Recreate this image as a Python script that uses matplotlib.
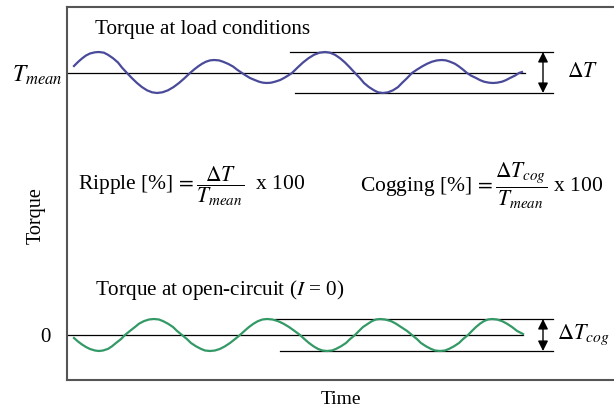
import numpy as np
import matplotlib.pyplot as plt

plt.rcParams['font.family'] = ['Liberation Serif', 'DejaVu Serif']
plt.rcParams['mathtext.fontset'] = 'stix'

# torque at load conditions (arbitrary units)
t_mean = 262
t_load = [7, 11, 15, 19, 23, 28,
          32, 37, 41, 46, 51, 55,
          60, 65, 70, 75, 80, 85,
          90, 95.5, 101, 106.5, 112, 117.5,
          123, 127, 131, 135, 139, 143,
          147, 152, 156, 161, 166, 170,
          175, 179, 183, 188, 192, 196,
          200, 204, 208, 213, 217, 221,
          225, 230.5, 236, 241.5, 247, 252.5,
          258, 263, 268, 273, 278, 283,
          288, 293, 297, 302, 307, 311,
          316, 321, 326, 331, 335, 340,
          345, 350, 355, 360, 365, 370,
          375, 379, 383, 388, 392, 396,
          400, 404, 409, 413, 417, 422,
          426, 430, 435, 439, 443, 448, 452, 455]
ripple_load = [7, 11, 14.5, 17.5, 19.5, 20.7,
               21, 20.3, 18.2, 14.8, 10.5, 5.4,
               0, -5.2, -10, -14.1, -17.3, -19.3,
               -20, -19.3, -17.3, -14.1, -10, -5.2,
               0, 3.4, 6.5, 9.2, 11.3, 12.6,
               13, 12.6, 11.3, 9.2, 6.5, 3.4,
               0, -2.6, -5, -7.1, -8.7, -9.7,
               -10, -9.7, -8.7, -7.1, -5, -2.6,
               0, 5.4, 10.5, 14.8, 18.2, 20.3,
               21, 20.3, 18.2, 14.8, 10.5, 5.4,
               0, -5.2, -10, -14.1, -17.3, -19.3,
               -20, -19.3, -17.3, -14.1, -10, -5.2,
               0, 3.4, 6.5, 9.2, 11.3, 12.6,
               13, 12.6, 11.3, 9.2, 6.5, 3.4,
               0, -2.6, -5, -7.1, -8.7, -9.7,
               -10, -9.7, -8.7, -7.1, -5, -2.6, 0, 1]
torque_load = t_mean + np.array(ripple_load)

# torque at open circuit (cogging)
t_cog = [7, 11, 15, 19, 23, 28,
         32, 36, 41, 45, 49, 54,
         58, 63, 68, 72, 77, 82,
         87, 92, 96, 101, 106, 110,
         115, 120, 124, 129, 134, 138,
         143, 148, 153, 158, 163, 168,
         173, 177.5, 182, 186.5, 191, 195.5,
         200, 205.5, 211, 216.5, 222, 227.5,
         233, 237.5, 242, 246.5, 251, 255.5,
         260, 265, 269, 274, 279, 283,
         288, 292, 296, 301, 305, 309,
         313, 318, 324, 329, 334, 340,
         345, 350, 354, 359, 364, 368,
         373, 378, 382, 387, 392, 396,
         401, 405, 409, 413, 417, 421,
         425, 430, 435, 440, 445, 450, 456]
torque_cog = [-3, -6.5, -9.5, -12, -14, -15.5,
              -16, -15.5, -13.9, -11.3, -8, -4.1,
              0, 4.1, 8, 11.3, 13.9, 15.5,
              16, 15.5, 13.9, 11.3, 8, 4.1,
              0, -4.1, -8, -11.3, -13.9, -15.5,
              -16, -15.5, -13.9, -11.3, -8, -4.1,
              0, 4.1, 8, 11.3, 13.9, 15.5,
              16, 15.5, 13.9, 11.3, 8, 4.1,
              0, -4.1, -8, -11.3, -13.9, -15.5,
              -16, -15.5, -13.9, -11.3, -8, -4.1,
              0, 4.1, 8, 11.3, 13.9, 15.5,
              16, 15.5, 13.9, 11.3, 8, 4.1,
              0, -4.1, -8, -11.3, -13.9, -15.5,
              -16, -15.5, -13.9, -11.3, -8, -4.1,
              0, 4.1, 8, 11.3, 13.9, 15.5,
              16, 15.5, 13.9, 11.3, 8, 4.1, 1]

fig = plt.figure(figsize=(6.14, 4.09), dpi=100)
ax = fig.add_axes([0.1091, 0.0709, 0.8909, 0.912])
ax.set_xlim(0, 547)
ax.set_ylim(-45, 328)

spine_col = '#555555'
for s in ['left', 'top', 'bottom']:
    ax.spines[s].set_color(spine_col)
    ax.spines[s].set_linewidth(1.5)
ax.spines['right'].set_visible(False)

# reference lines
ax.plot([0, 458], [t_mean, t_mean], color='black', lw=0.9)
ax.plot([223, 486], [torque_load.max()] * 2, color='black', lw=0.9)
ax.plot([228, 486], [torque_load.min()] * 2, color='black', lw=0.9)
ax.plot([0, 456], [0, 0], color='black', lw=0.9)
ax.plot([208, 486], [max(torque_cog)] * 2, color='black', lw=0.9)
ax.plot([213, 486], [min(torque_cog)] * 2, color='black', lw=0.9)

# waves
ax.plot(t_load, torque_load, color='#4a4a9a', lw=1.6, solid_joinstyle='round')
ax.plot(t_cog, torque_cog, color='#339966', lw=1.6, solid_joinstyle='round')

# double arrows
arrow = dict(arrowstyle='<|-|>', color='black', lw=1, mutation_scale=15,
             shrinkA=0, shrinkB=0)
ax.annotate('', xy=(476, torque_load.max()), xytext=(476, torque_load.min()),
            arrowprops=arrow)
ax.annotate('', xy=(476, max(torque_cog)), xytext=(476, min(torque_cog)),
            arrowprops=arrow)

fs = 15.5
ax.text(500, t_mean, r'$\Delta T$', fontsize=fs, va='center', ha='left')
ax.text(490, 0, r'$\Delta T_{cog}$', fontsize=16, va='center', ha='left')

ax.text(28, 305, 'Torque at load conditions', fontsize=15.2, va='center')
ax.text(28, 45, r'Torque at open-circuit ($I$ = 0)', fontsize=15.2, va='center')

ax.text(11, 149, r'Ripple [%]$\,{=}\dfrac{\Delta T}{T_{mean}}$  x 100',
        fontsize=fs, va='center')
ax.text(293, 149, r'Cogging [%]$\,{=}\dfrac{\Delta T_{cog}}{T_{mean}}$ x 100',
        fontsize=fs, va='center')

# axes labels / ticks
ax.set_xticks([])
ax.set_yticks([0, t_mean])
ax.set_yticklabels(['0', r'$T_{mean}$'])
ax.yaxis.get_ticklabels()[0].set_fontsize(15)
ax.yaxis.get_ticklabels()[1].set_fontsize(17)
ax.tick_params(axis='y', length=0, pad=3)
ax.yaxis.get_major_ticks()[0].set_pad(12)

ax.set_xlabel('Time', fontsize=14, labelpad=8)
ax.set_ylabel('Torque', fontsize=14.5)
ax.yaxis.set_label_coords(-0.039, 0.442)

fig.savefig('out.png', dpi=100)
